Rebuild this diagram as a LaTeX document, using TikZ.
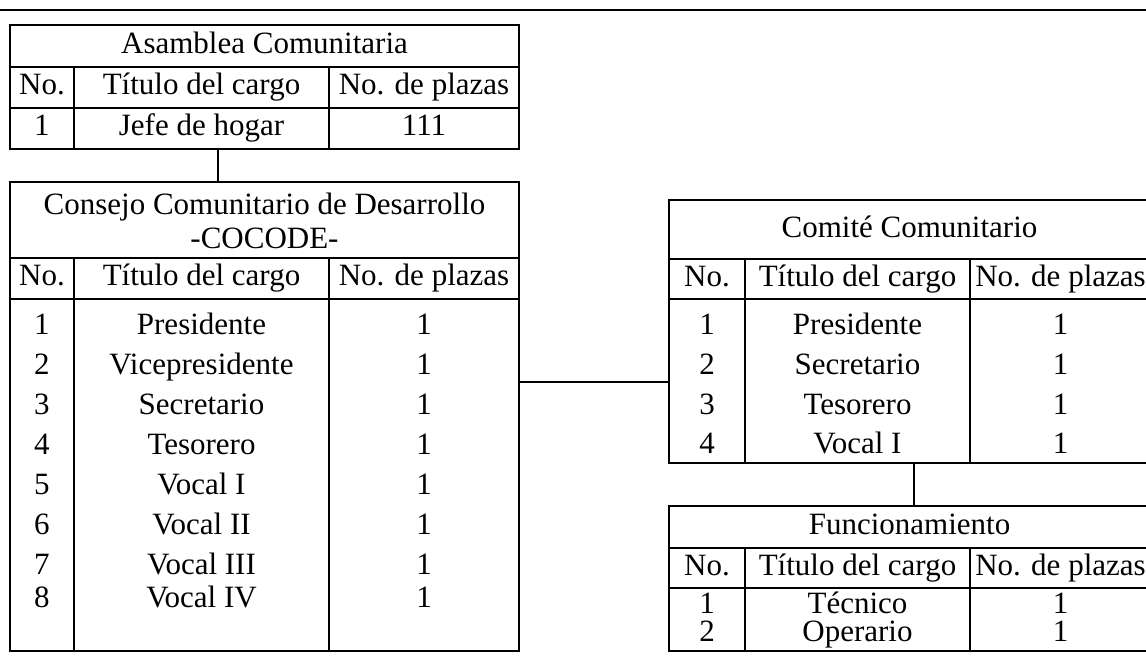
\documentclass[tikz,border=0pt]{standalone}
\usepackage{fontspec}
\setmainfont{Liberation Serif}
\tikzset{
  celda/.style={black, inner sep=0pt, text height=20pt, text depth=6pt, font=\fontsize{31}{34}\selectfont},
  celdabaja/.style={celda, text height=19pt, text depth=5pt},
  marco/.style={draw=black, line width=1.3pt, inner sep=0pt, outer sep=0pt},
  linea/.style={black, line width=1.1pt},
  enlace/.style={black, line width=1.1pt}
}

\begin{document}
\begin{tikzpicture}[x=1pt, y=-1pt]
\useasboundingbox (0,0) rectangle (1146,657);
\clip (0,0) rectangle (1146,657);
\draw[linea] (0,10) -- (1146,10);

% Asamblea Comunitaria
\node[marco, minimum width=509pt, minimum height=124pt] (asamblea) at (264.5,87) {};
\draw[linea] (10,67) -- (519,67);
\draw[linea] (10,108) -- (519,108);
\draw[linea] (74,67) -- (74,149);
\draw[linea] (329,67) -- (329,149);
\node[celda] (asm-titulo) at (264.5,46) {Asamblea Comunitaria};
\node[celda] (asm-no) at (42,87.5) {No.};
\node[celda] (asm-cargo) at (201.5,87.5) {Título del cargo};
\node[celda] (asm-plazas) at (424,87.5) {No. de plazas};
\node[celda] (asm-n1) at (42,128.5) {1};
\node[celda] (asm-c1) at (201.5,128.5) {Jefe de hogar};
\node[celda] (asm-p1) at (424,128.5) {111};

% Consejo Comunitario de Desarrollo
\node[marco, minimum width=509pt, minimum height=469pt] (consejo) at (264.5,416.5) {};
\draw[linea] (10,258) -- (519,258);
\draw[linea] (10,299) -- (519,299);
\draw[linea] (74,258) -- (74,651);
\draw[linea] (329,258) -- (329,651);
\node[celda, align=center, text height=, text depth=] (cons-titulo) at (264.5,221) {Consejo Comunitario de Desarrollo\\-COCODE-};
\node[celda] (cons-no) at (42,278.5) {No.};
\node[celda] (cons-cargo) at (201.5,278.5) {Título del cargo};
\node[celda] (cons-plazas) at (424,278.5) {No. de plazas};
\foreach \n/\cargo/\y in {1/Presidente/327, 2/Vicepresidente/367, 3/Secretario/407, 4/Tesorero/447,
                          5/Vocal I/487, 6/Vocal II/527, 7/Vocal III/567, 8/Vocal IV/600} {
  \node[celda] (cons-n\n) at (42,\y) {\n};
  \node[celda] (cons-c\n) at (201.5,\y) {\cargo};
  \node[celda] (cons-p\n) at (424,\y) {1};
}

% Comite Comunitario
\node[marco, minimum width=481pt, minimum height=263pt] (comite) at (909.5,331.5) {};
\draw[linea] (669,259) -- (1150,259);
\draw[linea] (669,299) -- (1150,299);
\draw[linea] (745,259) -- (745,463);
\draw[linea] (970,259) -- (970,463);
\node[celda] (com-titulo) at (909.5,230) {Comité Comunitario};
\node[celda] (com-no) at (707,279) {No.};
\node[celda] (com-cargo) at (857.5,279) {Título del cargo};
\node[celda] (com-plazas) at (1060.5,279) {No. de plazas};
\foreach \n/\cargo/\y in {1/Presidente/327, 2/Secretario/367, 3/Tesorero/407, 4/Vocal I/446} {
  \node[celda] (com-n\n) at (707,\y) {\n};
  \node[celda] (com-c\n) at (857.5,\y) {\cargo};
  \node[celda] (com-p\n) at (1060.5,\y) {1};
}

% Funcionamiento
\node[marco, minimum width=481pt, minimum height=145pt] (func) at (909.5,578.5) {};
\draw[linea] (669,548) -- (1150,548);
\draw[linea] (669,588) -- (1150,588);
\draw[linea] (745,548) -- (745,651);
\draw[linea] (970,548) -- (970,651);
\node[celda] (fun-titulo) at (909.5,527) {Funcionamiento};
\node[celda] (fun-no) at (707,568) {No.};
\node[celda] (fun-cargo) at (857.5,568) {Título del cargo};
\node[celda] (fun-plazas) at (1060.5,568) {No. de plazas};
\node[celdabaja] (fun-n1) at (707,606) {1};
\node[celdabaja] (fun-c1) at (857.5,606) {Técnico};
\node[celdabaja] (fun-p1) at (1060.5,606) {1};
\node[celdabaja] (fun-n2) at (707,634) {2};
\node[celdabaja] (fun-c2) at (857.5,634) {Operario};
\node[celdabaja] (fun-p2) at (1060.5,634) {1};

% enlaces
\coordinate (eje1) at (218,0);
\coordinate (eje2) at (0,382);
\coordinate (eje3) at (914,0);
\draw[enlace] (asamblea.south -| eje1) -- (consejo.north -| eje1);
\draw[enlace] (consejo.east |- eje2) -- (comite.west |- eje2);
\draw[enlace] (comite.south -| eje3) -- (func.north -| eje3);
\end{tikzpicture}
\end{document}
